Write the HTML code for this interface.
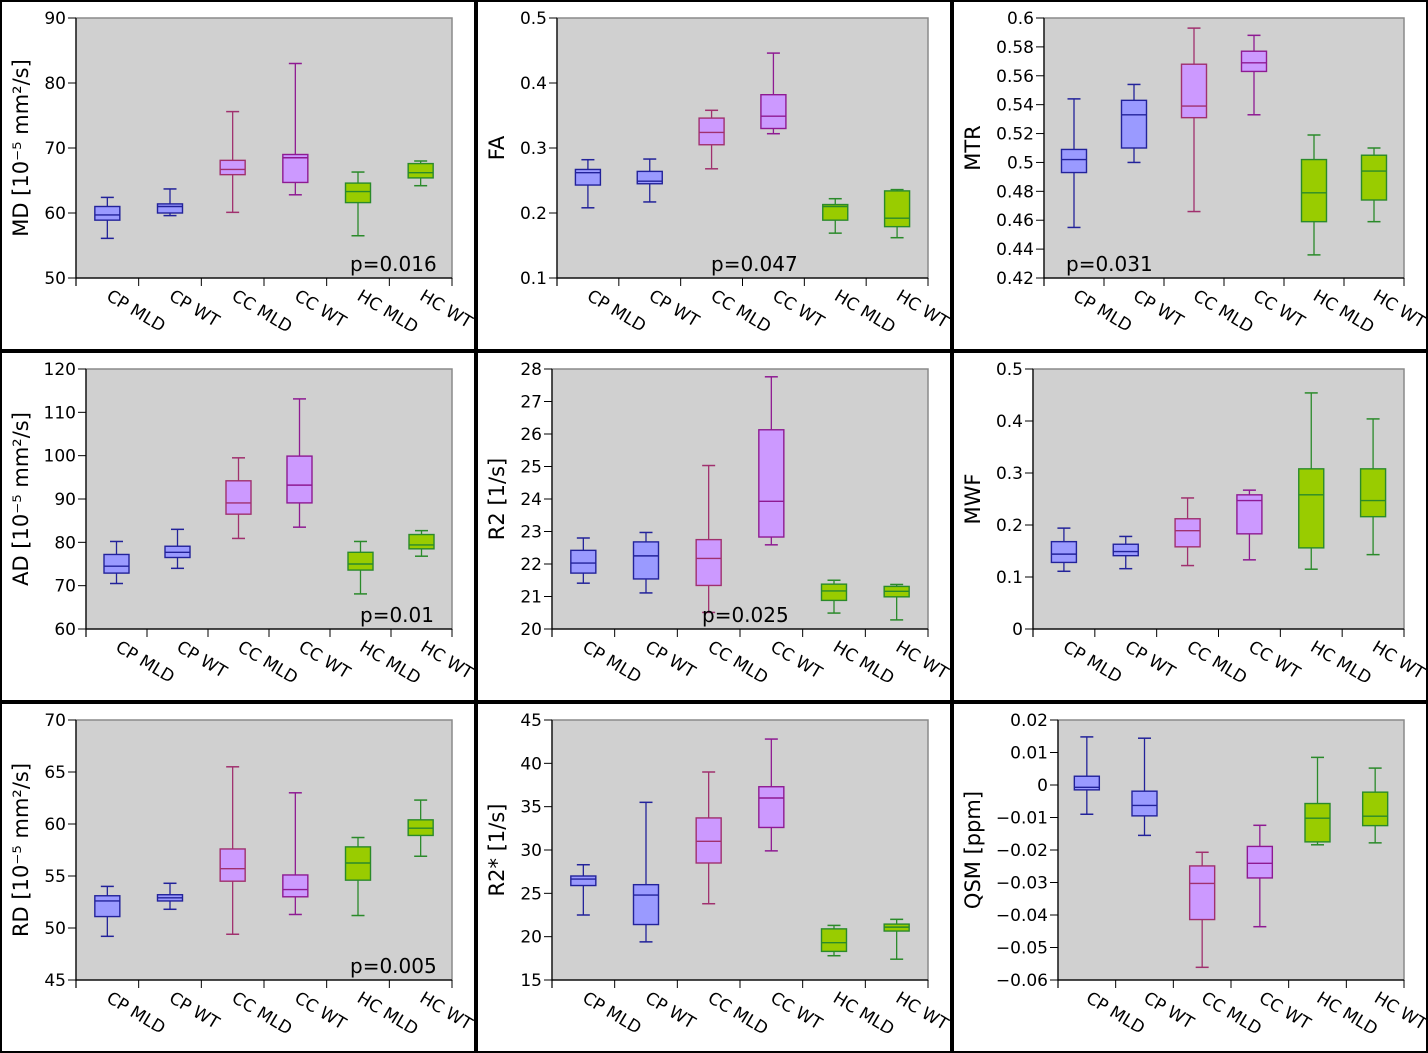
<!DOCTYPE html>
<html><head><meta charset="utf-8"><style>
html,body{margin:0;padding:0;background:#fff}
svg{display:block}
text{font-family:"DejaVu Sans","Liberation Sans",sans-serif;fill:#000}
</style></head><body>
<svg id="fig" width="1428" height="1053" viewBox="0 0 1428 1053" xmlns="http://www.w3.org/2000/svg"></svg>
<script>
const categories = ["CP MLD","CP WT","CC MLD","CC WT","HC MLD","HC WT"];

const mdLow=[56.1,59.6,60.1,62.8,56.5,64.2], mdQ1=[58.9,60.0,65.9,64.7,61.6,65.4], mdMed=[59.7,61.0,66.7,68.5,63.3,66.2], mdQ3=[61.0,61.4,68.1,69.0,64.6,67.6], mdHigh=[62.4,63.7,75.6,83.0,66.3,68.0];
const mdTicks=[50,60,70,80,90];
const faLow=[0.208,0.217,0.268,0.322,0.169,0.162], faQ1=[0.243,0.245,0.305,0.330,0.189,0.179], faMed=[0.262,0.249,0.324,0.349,0.210,0.192], faQ3=[0.267,0.264,0.346,0.382,0.213,0.234], faHigh=[0.282,0.283,0.358,0.446,0.222,0.236];
const faTicks=[0.1,0.2,0.3,0.4,0.5];
const mtrLow=[0.455,0.500,0.466,0.533,0.436,0.459], mtrQ1=[0.493,0.510,0.531,0.563,0.459,0.474], mtrMed=[0.502,0.533,0.539,0.569,0.479,0.494], mtrQ3=[0.509,0.543,0.568,0.577,0.502,0.505], mtrHigh=[0.544,0.554,0.593,0.588,0.519,0.510];
const mtrTicks=[0.42,0.44,0.46,0.48,0.5,0.52,0.54,0.56,0.58,0.6];
const adLow=[70.5,74.0,80.9,83.5,68.1,76.8], adQ1=[72.9,76.5,86.5,89.1,73.6,78.5], adMed=[74.5,77.7,89.1,93.2,75.0,79.4], adQ3=[77.2,79.1,94.2,99.9,77.7,81.8], adHigh=[80.2,83.0,99.5,113.1,80.2,82.7];
const adTicks=[60,70,80,90,100,110,120];
const r2Low=[21.41,21.11,20.51,22.59,20.49,20.28], r2Q1=[21.72,21.54,21.34,22.83,20.88,20.99], r2Med=[22.03,22.25,22.17,23.93,21.17,21.16], r2Q3=[22.42,22.68,22.75,26.13,21.38,21.31], r2High=[22.80,22.97,25.03,27.76,21.50,21.37];
const r2Ticks=[20,21,22,23,24,25,26,27,28];
const mwfLow=[0.111,0.116,0.122,0.133,0.115,0.143], mwfQ1=[0.128,0.141,0.158,0.183,0.156,0.216], mwfMed=[0.144,0.149,0.189,0.247,0.258,0.247], mwfQ3=[0.168,0.163,0.212,0.258,0.308,0.308], mwfHigh=[0.194,0.178,0.252,0.267,0.454,0.404];
const mwfTicks=[0,0.1,0.2,0.3,0.4,0.5];
const rdLow=[49.2,51.8,49.4,51.3,51.2,56.9], rdQ1=[51.1,52.6,54.5,53.0,54.6,58.9], rdMed=[52.6,52.9,55.7,53.7,56.25,59.6], rdQ3=[53.1,53.2,57.6,55.1,57.8,60.4], rdHigh=[54.0,54.3,65.5,63.0,58.7,62.3];
const rdTicks=[45,50,55,60,65,70];
const r2sLow=[22.5,19.4,23.8,29.9,17.8,17.4], r2sQ1=[25.9,21.4,28.5,32.6,18.3,20.65], r2sMed=[26.65,24.8,31.0,36.0,19.3,21.1], r2sQ3=[27.0,26.0,33.7,37.3,20.9,21.45], r2sHigh=[28.3,35.5,39.0,42.8,21.3,22.0];
const r2sTicks=[15,20,25,30,35,40,45];
const qsmLow=[-0.0090,-0.0155,-0.0561,-0.0436,-0.0184,-0.0178], qsmQ1=[-0.0015,-0.0095,-0.0414,-0.0286,-0.0175,-0.0125], qsmMed=[-0.0007,-0.0063,-0.0303,-0.0241,-0.0102,-0.0096], qsmQ3=[0.0027,-0.0019,-0.0249,-0.0189,-0.0057,-0.0022], qsmHigh=[0.0148,0.0144,-0.0207,-0.0124,0.0085,0.0052];
const qsmTicks=[-0.06,-0.05,-0.04,-0.03,-0.02,-0.01,0,0.01,0.02];

const fills=["#9a9aff","#9a9aff","#cc99ff","#cc99ff","#99cc00","#99cc00"];
const strokes=["#22229a","#22229a","#a0306e","#8e1a92","#2a8a2a","#2a8a2a"];

const panels=[
 {key:"md",label:"MD [10⁻⁵ mm²/s]",ox:0,oy:0,left:76,min:50,max:90,ticks:mdTicks,lo:mdLow,q1:mdQ1,med:mdMed,q3:mdQ3,hi:mdHigh,p:"p=0.016",px:350},
 {key:"fa",label:"FA",ox:476,oy:0,left:81,min:0.1,max:0.5,ticks:faTicks,lo:faLow,q1:faQ1,med:faMed,q3:faQ3,hi:faHigh,p:"p=0.047",px:235},
 {key:"mtr",label:"MTR",ox:952,oy:0,left:92,min:0.42,max:0.6,ticks:mtrTicks,lo:mtrLow,q1:mtrQ1,med:mtrMed,q3:mtrQ3,hi:mtrHigh,p:"p=0.031",px:114},
 {key:"ad",label:"AD [10⁻⁵ mm²/s]",ox:0,oy:351,left:86,min:60,max:120,ticks:adTicks,lo:adLow,q1:adQ1,med:adMed,q3:adQ3,hi:adHigh,p:"p=0.01",px:360},
 {key:"r2",label:"R2 [1/s]",ox:476,oy:351,left:76,min:20,max:28,ticks:r2Ticks,lo:r2Low,q1:r2Q1,med:r2Med,q3:r2Q3,hi:r2High,p:"p=0.025",px:226},
 {key:"mwf",label:"MWF",ox:952,oy:351,left:81,min:0,max:0.5,ticks:mwfTicks,lo:mwfLow,q1:mwfQ1,med:mwfMed,q3:mwfQ3,hi:mwfHigh,p:"",px:0},
 {key:"rd",label:"RD [10⁻⁵ mm²/s]",ox:0,oy:702,left:76,min:45,max:70,ticks:rdTicks,lo:rdLow,q1:rdQ1,med:rdMed,q3:rdQ3,hi:rdHigh,p:"p=0.005",px:350},
 {key:"r2s",label:"R2* [1/s]",ox:476,oy:702,left:76,min:15,max:45,ticks:r2sTicks,lo:r2sLow,q1:r2sQ1,med:r2sMed,q3:r2sQ3,hi:r2sHigh,p:"",px:0},
 {key:"qsm",label:"QSM [ppm]",ox:952,oy:702,left:106,min:-0.06,max:0.02,ticks:qsmTicks,lo:qsmLow,q1:qsmQ1,med:qsmMed,q3:qsmQ3,hi:qsmHigh,p:"",px:0}
];

const NS="http://www.w3.org/2000/svg";
const svg=document.getElementById("fig");
function mk(tag,attrs,parent){const e=document.createElementNS(NS,tag);for(const k in attrs)e.setAttribute(k,attrs[k]);(parent||svg).appendChild(e);return e;}
function fmt(v){let s=String(Math.round(v*1000)/1000);return s.replace("-","−");}

panels.forEach(P=>{
  const g=mk("g",{transform:`translate(${P.ox},${P.oy})`});
  
  
  const L=P.left,R=452,T=18,B=278;
  const y=v=>B-(v-P.min)/(P.max-P.min)*(B-T);
  const bw=(R-L)/categories.length;
  const xc=i=>L+bw*(i+0.5);
  const bg=mk("rect",{x:L,y:T,width:R-L,height:B-T,fill:"#d0d0d0",stroke:"#8a8a8a","stroke-width":1.5},g);
  
  
  const ya=mk("line",{x1:L,y1:T,x2:L,y2:B+8,stroke:"#000","stroke-width":1.2},g);
  
  
  const xa=mk("line",{x1:L,y1:B,x2:R,y2:B,stroke:"#000","stroke-width":1.2},g);
  
  
  P.ticks.forEach(t=>{
    mk("line",{x1:L-8,y1:y(t),x2:L,y2:y(t),stroke:"#000","stroke-width":1},g);
    const tl=mk("text",{x:L-10,y:y(t)+6,"text-anchor":"end","font-size":17},g);
    tl.textContent=fmt(t);
    
    
  });
  for(let i=0;i<=categories.length;i++){
    mk("line",{x1:L+bw*i,y1:B,x2:L+bw*i,y2:B+8,stroke:"#000","stroke-width":1},g);
  }
  categories.forEach((c,i)=>{
    const cx=xc(i);
    const cl=mk("text",{x:0,y:0,"font-size":17,transform:`translate(${cx-2},${B+21}) rotate(31)`},g);
    cl.textContent=c;
    
    
    const bx=mk("g",{},g);
    
    
    const s=strokes[i];
    mk("line",{x1:cx,y1:y(P.hi[i]),x2:cx,y2:y(P.q3[i]),stroke:s,"stroke-width":1.3},bx);
    mk("line",{x1:cx,y1:y(P.q1[i]),x2:cx,y2:y(P.lo[i]),stroke:s,"stroke-width":1.3},bx);
    mk("line",{x1:cx-6.5,y1:y(P.hi[i]),x2:cx+6.5,y2:y(P.hi[i]),stroke:s,"stroke-width":1.5},bx);
    mk("line",{x1:cx-6.5,y1:y(P.lo[i]),x2:cx+6.5,y2:y(P.lo[i]),stroke:s,"stroke-width":1.5},bx);
    mk("rect",{x:cx-12.5,y:y(P.q3[i]),width:25,height:Math.max(1,y(P.q1[i])-y(P.q3[i])),fill:fills[i],stroke:s,"stroke-width":1.4},bx);
    mk("line",{x1:cx-12.5,y1:y(P.med[i]),x2:cx+12.5,y2:y(P.med[i]),stroke:s,"stroke-width":1.4},bx);
  });
  const yl=mk("text",{x:0,y:0,"font-size":21,"text-anchor":"middle",transform:`translate(28,${(T+B)/2}) rotate(-90)`},g);
  yl.textContent=P.label;
  
  
  if(P.p){
    const pt=mk("text",{x:P.px,y:271,"font-size":20,"font-family":"Liberation Sans, sans-serif"},g);
    pt.textContent=P.p;
    
    
  }
});
[[0,0],[476,0],[952,0],[0,351],[476,351],[952,351],[0,702],[476,702],[952,702]].forEach(([x,yy])=>{
  const b=mk("rect",{x:x+1,y:yy+1,width:474,height:349,fill:"none",stroke:"#000","stroke-width":2});
  
  
});
</script>
</body></html>
